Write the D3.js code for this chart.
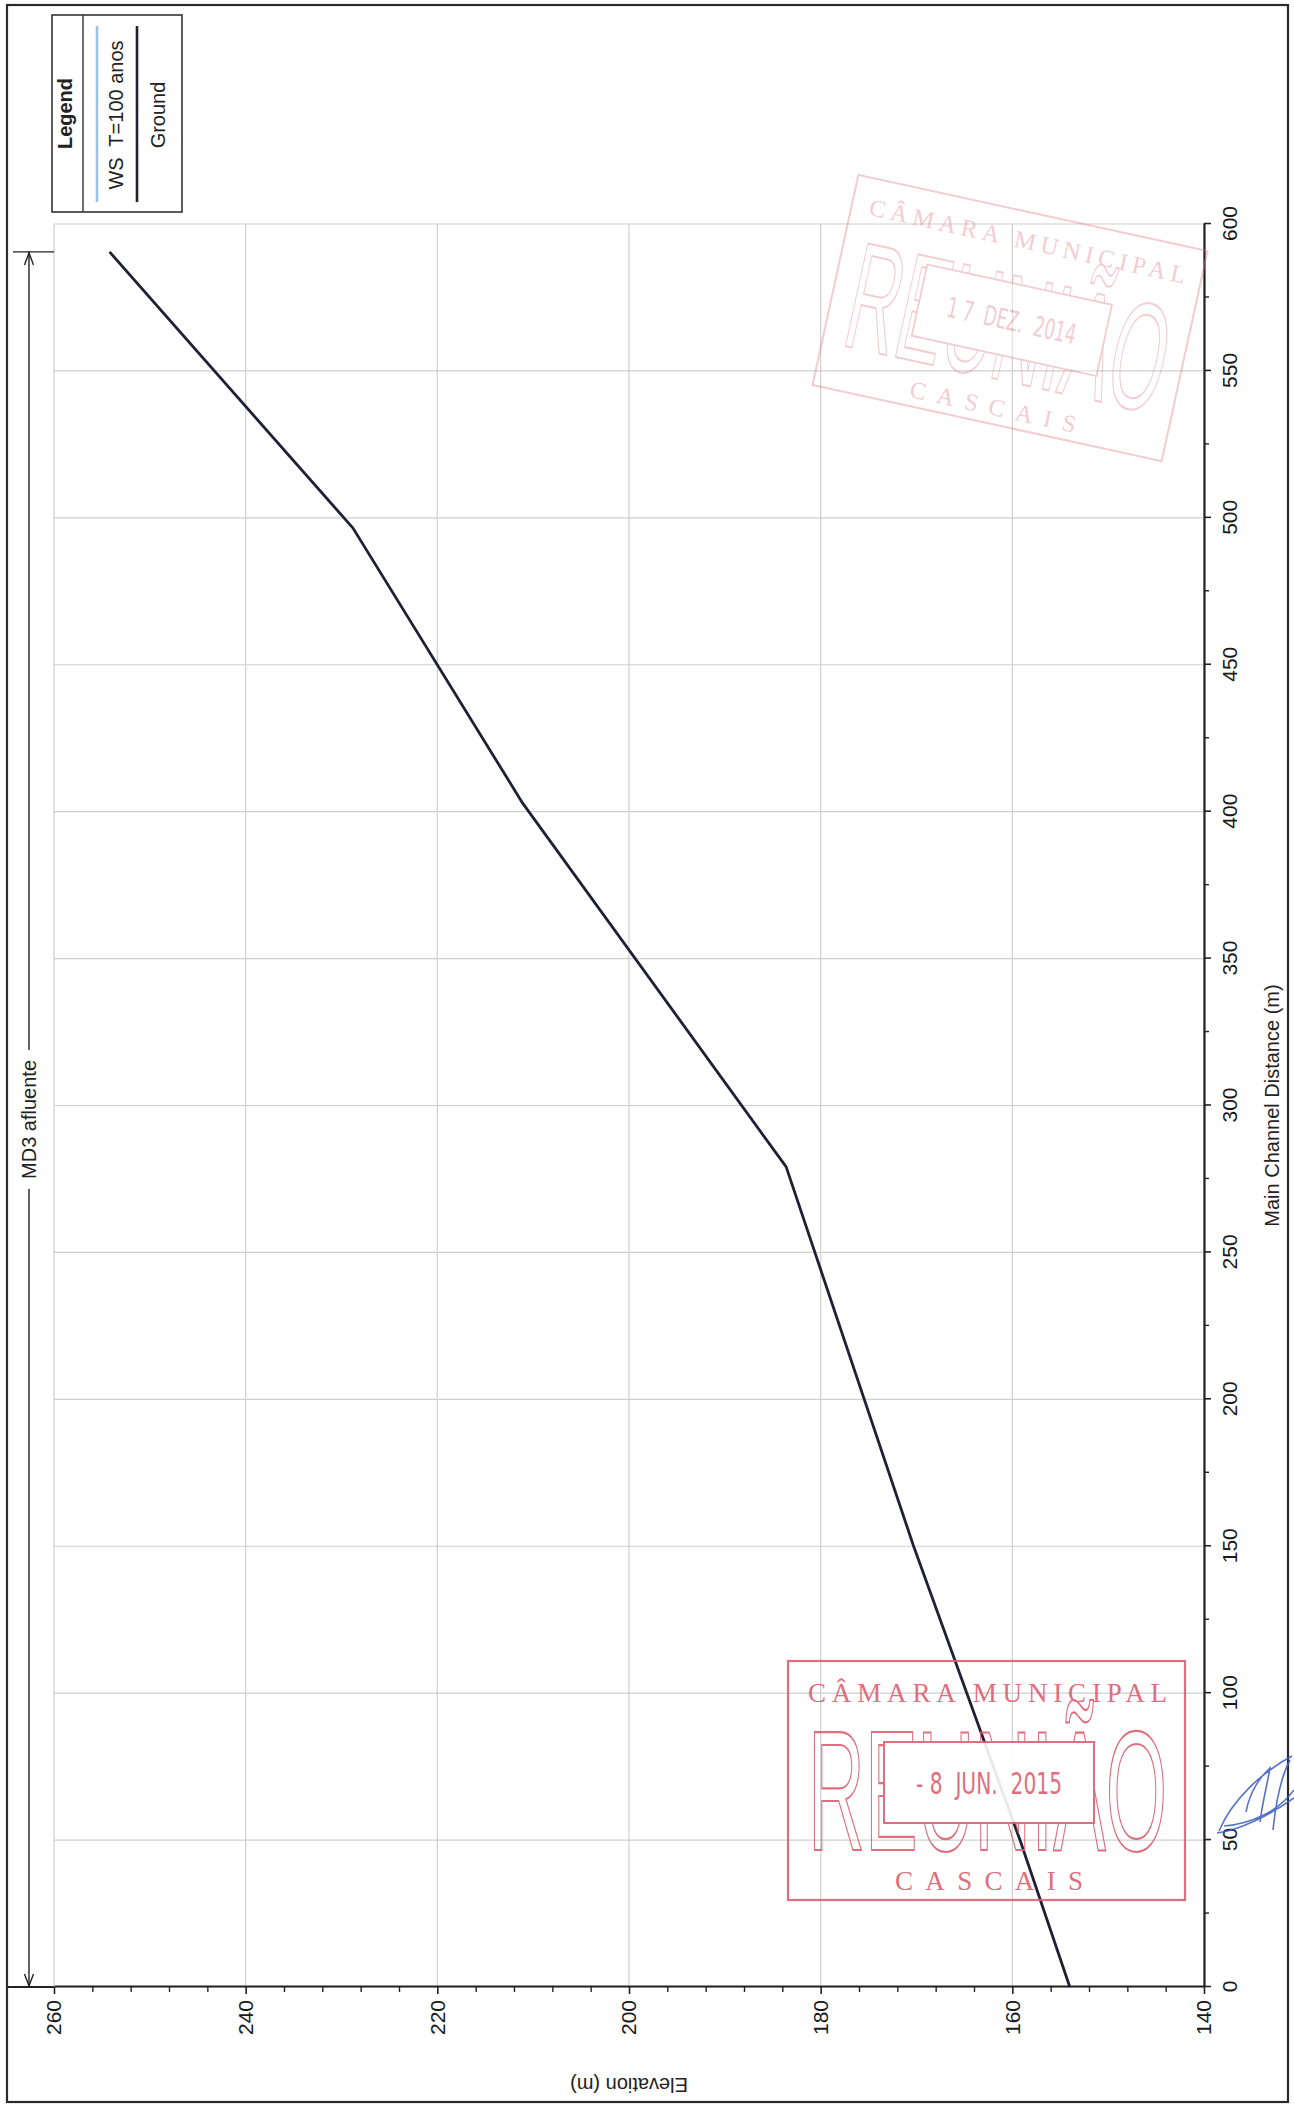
<!DOCTYPE html>
<html><head><meta charset="utf-8">
<script src="https://cdn.jsdelivr.net/npm/d3@7"></script>
<style>html,body{margin:0;padding:0;background:#fff}svg{display:block}</style>
</head><body><svg id="c" width="1294" height="2105"></svg>
<script>
// ---------------- data ----------------
const distanceTicks = [0, 50, 100, 150, 200, 250, 300, 350, 400, 450, 500, 550, 600];
const distanceMinor = [25, 75, 125, 175, 225, 275, 325, 375, 425, 475, 525, 575];
const elevationTicks = [140, 160, 180, 200, 220, 240, 260];
const elevationMinor = [144, 148, 152, 156, 164, 168, 172, 176, 184, 188, 192, 196, 204, 208, 212, 216, 224, 228, 232, 236, 244, 248, 252, 256];
const groundDist = [590.5, 496.5, 402.9, 279.1, 150, 50, 0];
const groundElev = [254.2, 228.8, 211.1, 183.6, 170.3, 159.2, 154.0];
const legendTitle = "Legend";
const legendLabels = ["WS  T=100 anos", "Ground"];
const legendColors = ["#9cc3e4", "#1f1f35"];
const reachLabel = "MD3 afluente";
const xTitle = "Main Channel Distance (m)";
const yTitle = "Elevation (m)";
const stampTop = ["CÂMARA MUNICIPAL", "REUNIÃO", "CASCAIS"];
const stampDates = ["- 8  JUN.  2015", "1 7  DEZ.  2014"];

// ---------------- setup ----------------
const svg = d3.select("#c");
const FONT = "'Liberation Sans', Arial, Helvetica, sans-serif";
svg.append("rect").attr("width", 1294).attr("height", 2105).attr("fill", "#fff");

// outer frame (page coords)
svg.append("rect").attr("x", 7).attr("y", 5).attr("width", 1281).attr("height", 2097)
  .attr("fill", "none").attr("stroke", "#2a2a2a").attr("stroke-width", 2.2);

// chart drawn in landscape orientation, then rotated onto the page
const g = svg.append("g").attr("transform", "translate(0,2105) rotate(-90)");

const x = d3.scaleLinear().domain([0, 600]).range([118, 1881]);
const y = d3.scaleLinear().domain([140, 260]).range([1204, 54]);

// grid
g.append("g").selectAll("line").data(distanceTicks).join("line")
  .attr("x1", d => x(d)).attr("x2", d => x(d)).attr("y1", y(260)).attr("y2", y(140))
  .attr("stroke", "#cfcfcf").attr("stroke-width", 1.2);
g.append("g").selectAll("line").data(elevationTicks).join("line")
  .attr("y1", d => y(d)).attr("y2", d => y(d)).attr("x1", x(0)).attr("x2", x(600))
  .attr("stroke", "#cfcfcf").attr("stroke-width", 1.2);

// axes
function styleAxis(sel) {
  sel.select(".domain").attr("stroke", "#222").attr("stroke-width", 2.2);
  sel.selectAll(".tick line").attr("stroke", "#222").attr("stroke-width", 1.6);
  sel.selectAll(".tick text").attr("font-family", FONT).attr("font-size", 21).attr("fill", "#1a1a1a");
}
const xAxis = g.append("g").attr("transform", `translate(0,${y(140)})`)
  .call(d3.axisBottom(x).tickValues(distanceTicks).tickSize(7).tickSizeOuter(0).tickPadding(11).tickFormat(d3.format("d")));
styleAxis(xAxis);
const xMinor = g.append("g").attr("transform", `translate(0,${y(140)})`)
  .call(d3.axisBottom(x).tickValues(distanceMinor).tickSize(5).tickFormat(""));
xMinor.select(".domain").remove();
xMinor.selectAll(".tick line").attr("stroke", "#222").attr("stroke-width", 1.4);

const yAxis = g.append("g").attr("transform", `translate(${x(0)},0)`)
  .call(d3.axisLeft(y).tickValues(elevationTicks).tickSize(7).tickSizeOuter(0).tickPadding(6).tickFormat(d3.format("d")));
styleAxis(yAxis);
const yMinor = g.append("g").attr("transform", `translate(${x(0)},0)`)
  .call(d3.axisLeft(y).tickValues(elevationMinor).tickSize(5).tickFormat(""));
yMinor.select(".domain").remove();
yMinor.selectAll(".tick line").attr("stroke", "#222").attr("stroke-width", 1.4);

// axis titles
g.append("text").attr("x", (x(0) + x(600)) / 2).attr("y", 1279)
  .attr("text-anchor", "middle").attr("font-family", FONT).attr("font-size", 20).attr("fill", "#222")
  .text(xTitle);
g.append("text").attr("transform", `translate(27,${(y(140) + y(260)) / 2}) rotate(-90)`)
  .attr("text-anchor", "middle").attr("font-family", FONT).attr("font-size", 20).attr("fill", "#222")
  .text(yTitle);

// reach extent dimension line
const rx0 = x(0), rx1 = x(groundDist[0]), ry = 29;
const dim = g.append("g").attr("stroke", "#222").attr("fill", "none").attr("stroke-width", 1.4);
dim.append("line").attr("x1", rx0).attr("x2", rx1).attr("y1", ry).attr("y2", ry);
dim.append("line").attr("x1", rx0).attr("x2", rx0).attr("y1", 8).attr("y2", y(260)).attr("stroke-width", 2.2);
dim.append("line").attr("x1", rx1).attr("x2", rx1).attr("y1", 13).attr("y2", y(260));
dim.append("path").attr("d", `M${rx0 + 13},${ry - 4.5}L${rx0 + 1},${ry}L${rx0 + 13},${ry + 4.5}`);
dim.append("path").attr("d", `M${rx1 - 13},${ry - 4.5}L${rx1 - 1},${ry}L${rx1 - 13},${ry + 4.5}`);
const rg = g.append("g");
const rrect = rg.append("rect").attr("fill", "#fff");
const rlab = rg.append("text").attr("x", (rx0 + rx1) / 2).attr("y", ry + 7)
  .attr("text-anchor", "middle").attr("font-family", FONT).attr("font-size", 20).attr("fill", "#222")
  .text(reachLabel);
const rb = rlab.node().getBBox();
rrect.attr("x", rb.x - 10).attr("y", ry - 6).attr("width", rb.width + 20).attr("height", 12);

// legend
const lg = g.append("g");
lg.append("rect").attr("x", 1893).attr("y", 52).attr("width", 197).attr("height", 130)
  .attr("fill", "#fff").attr("stroke", "#333").attr("stroke-width", 1.6);
lg.append("line").attr("x1", 1893).attr("x2", 2090).attr("y1", 83).attr("y2", 83).attr("stroke", "#333").attr("stroke-width", 1.4);
lg.append("text").attr("x", 1991.5).attr("y", 72).attr("text-anchor", "middle")
  .attr("font-family", FONT).attr("font-size", 20).attr("font-weight", "bold").attr("fill", "#222").text(legendTitle);
const legY = [97, 137], legTY = [123, 165];
legendLabels.forEach((lab, i) => {
  lg.append("line").attr("x1", 1903).attr("x2", 2079).attr("y1", legY[i]).attr("y2", legY[i])
    .attr("stroke", legendColors[i]).attr("stroke-width", 2.6);
  lg.append("text").attr("x", 1990).attr("y", legTY[i]).attr("text-anchor", "middle")
    .style("white-space", "pre")
    .attr("font-family", FONT).attr("font-size", 20).attr("fill", "#222").text(lab);
});

// ---------------- stamps (page coords) ----------------
function drawStamp(parent, date, color, op) {
  const s = parent.append("g").attr("opacity", op);
  const w = 397, h = 239;
  s.append("rect").attr("x", 0).attr("y", 0).attr("width", w).attr("height", h)
    .attr("fill", "none").attr("stroke", color).attr("stroke-width", 2.2);
  s.append("text").attr("x", 20).attr("y", 41).attr("textLength", 359).attr("lengthAdjust", "spacing")
    .attr("font-family", "'Liberation Serif', serif").attr("font-size", 27).attr("fill", color).text(stampTop[0]);
  s.append("text").attr("x", 20).attr("y", 189).attr("textLength", 359).attr("lengthAdjust", "spacingAndGlyphs")
    .attr("font-family", FONT).attr("font-size", 170).attr("fill", "none")
    .attr("stroke", color).attr("stroke-width", 2.2).text(stampTop[1]);
  s.append("rect").attr("x", 96).attr("y", 81).attr("width", 210).attr("height", 81)
    .attr("fill", "#fff").attr("stroke", color).attr("stroke-width", 2);
  s.append("text").attr("x", 201).attr("y", 133).attr("text-anchor", "middle")
    .attr("textLength", 146).attr("lengthAdjust", "spacingAndGlyphs").style("white-space", "pre")
    .attr("font-family", "'DejaVu Sans Condensed', 'Liberation Sans Narrow', sans-serif")
    .attr("font-size", 31).attr("fill", color).text(date);
  s.append("text").attr("x", 107).attr("y", 229).attr("textLength", 188).attr("lengthAdjust", "spacing")
    .attr("font-family", "'Liberation Serif', serif").attr("font-size", 27).attr("fill", color).text(stampTop[2]);
  return s;
}
const st1 = svg.append("g").attr("transform", "translate(788,1661)");
drawStamp(st1, stampDates[0], "#dc5f72", 0.9);
const st2 = svg.append("g").attr("transform", "translate(1010,318) rotate(12.3) scale(0.9) translate(-198.5,-119.5)");
drawStamp(st2, stampDates[1], "#e07a88", 0.38);

// ground line (on top of the stamps, as in the scan)
const line = d3.line().x((d, i) => x(groundDist[i])).y((d, i) => y(groundElev[i]));
g.append("path").datum(groundDist).attr("d", line)
  .attr("fill", "none").attr("stroke", legendColors[1]).attr("stroke-width", 2.8)
  .attr("stroke-linejoin", "round");

// signature scribble
svg.append("path")
  .attr("d", "M1219,1831 C1232,1800 1262,1772 1292,1756 M1217,1833 C1240,1830 1270,1815 1294,1798 M1246,1812 C1250,1790 1262,1775 1270,1768 C1266,1790 1262,1805 1260,1822 M1273,1830 C1276,1800 1282,1775 1290,1760 M1224,1826 C1250,1824 1278,1812 1294,1790")
  .attr("fill", "none").attr("stroke", "#3a5cc0").attr("stroke-width", 1.6).attr("opacity", 0.85);
</script></body></html>
